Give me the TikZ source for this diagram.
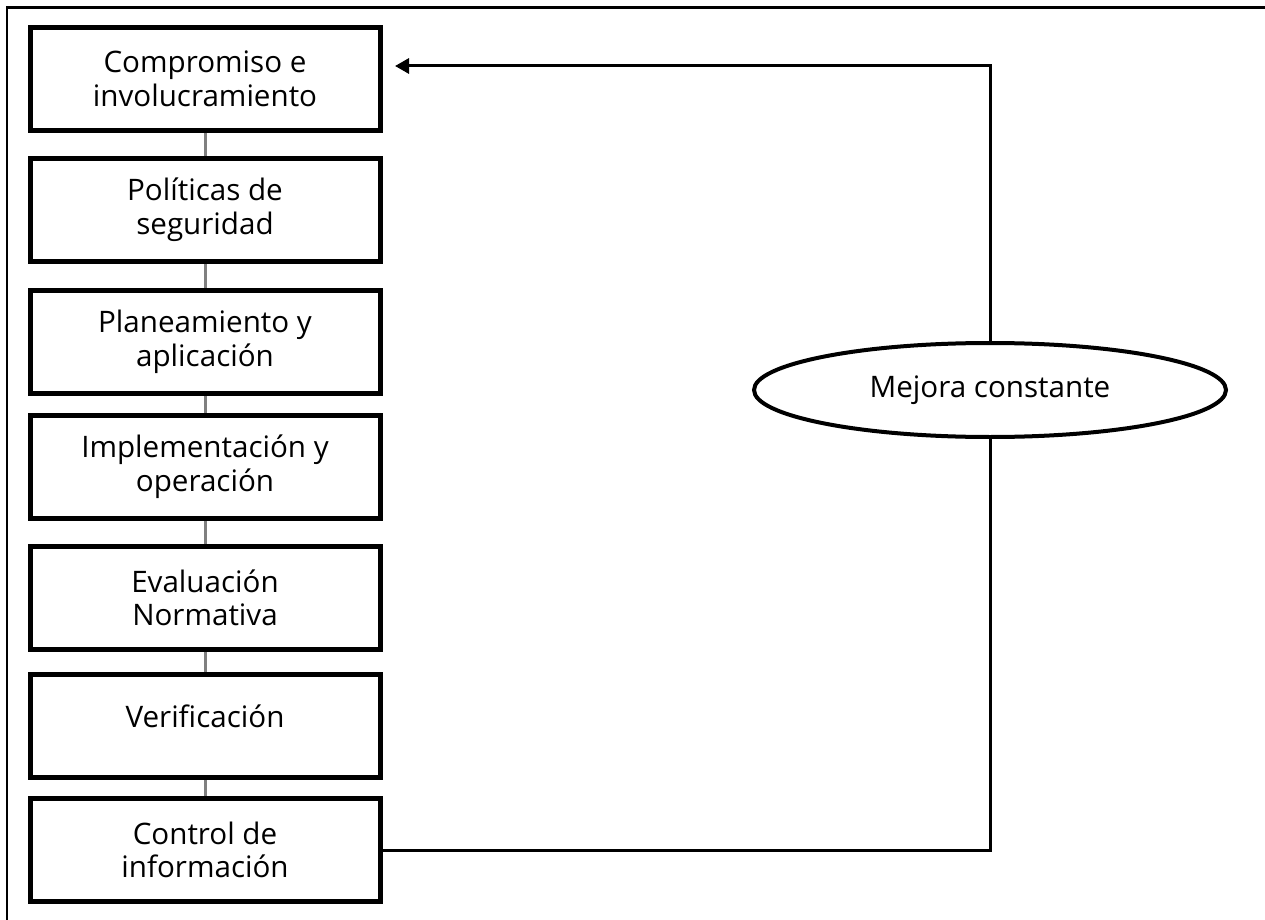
\documentclass[tikz,border=0pt]{standalone}
\usepackage{fontspec}
\setmainfont{Open Sans}
\usetikzlibrary{shapes.geometric,arrows.meta,positioning}

\begin{document}
\begin{tikzpicture}[x=0.5pt,y=-0.5pt,
    etapa/.style={draw, line width=2.5pt, minimum width=175pt, minimum height=51.5pt, align=center, inner sep=2pt, font=\fontsize{14.8}{16.8}\selectfont},
    enlace/.style={draw=gray, line width=1.5pt},
    ciclo/.style={draw, ellipse, line width=2pt, minimum width=236pt, minimum height=47pt, inner sep=0pt, font=\fontsize{14.8}{16.8}\selectfont},
    retorno/.style={line width=1.5pt}]
    \useasboundingbox (0,0) rectangle (1265,920);
    % marco
    \draw[line width=1.5pt] (6,8) -- (1265,8);
    \draw[line width=1pt] (7,8) -- (7,920);
    % etapas
    \node[etapa] (c1) at (205,79) {Compromiso e\\involucramiento};
    \node[etapa] (c2) at (205,210) {Políticas de\\seguridad};
    \node[etapa] (c3) at (205,342) {Planeamiento y\\aplicación};
    \node[etapa] (c4) at (205,467) {Implementación y\\operación};
    \node[etapa] (c5) at (205,598) {Evaluación\\Normativa};
    \node[etapa] (c6) at (205,726) {Verificación\\[-7pt]\mbox{}};
    \node[etapa] (c7) at (205,850) {Control de\\información};
    \foreach \a/\b in {c1/c2,c2/c3,c3/c4,c4/c5,c5/c6,c6/c7}
        \draw[enlace] (\a.south) -- (\b.north);
    % ciclo de mejora
    \node[ciclo] (mc) at (990,390) {Mejora constante};
    \coordinate (tip) at (395,66);
    \draw[retorno] (c7.east) -| (mc.south);
    \draw[retorno, -{Triangle[length=7pt,width=7.5pt]}] (mc.north) |- (tip);
\end{tikzpicture}
\end{document}
